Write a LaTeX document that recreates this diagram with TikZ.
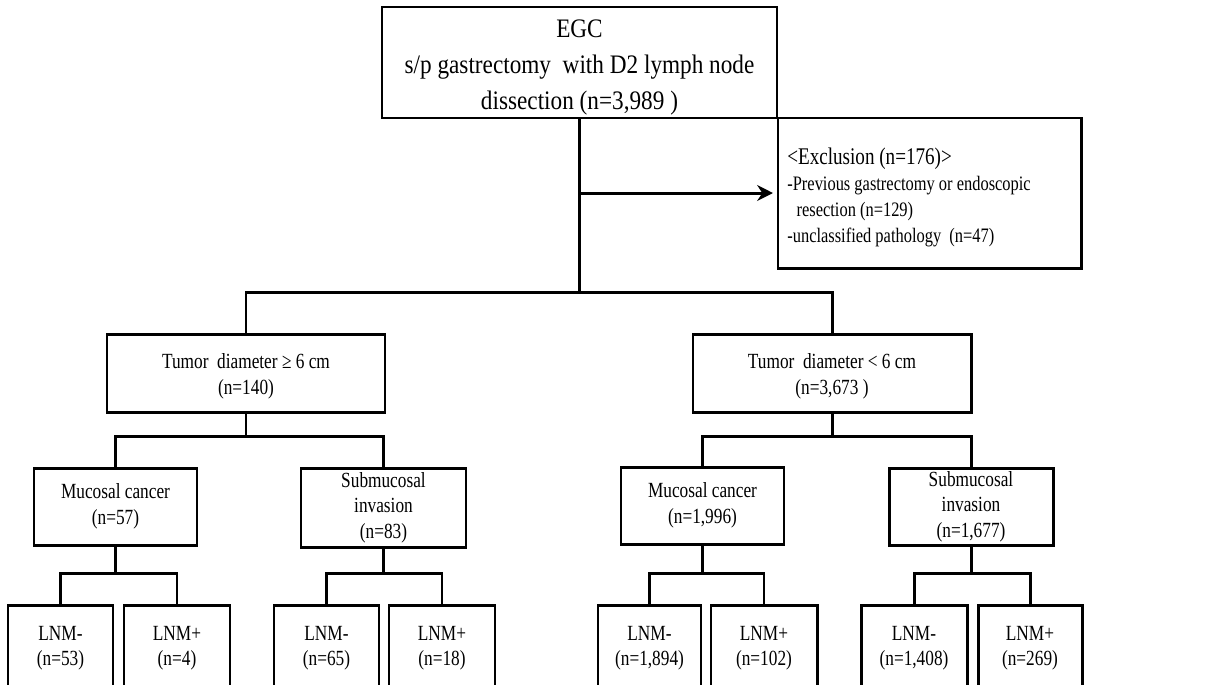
\documentclass[tikz,border=0pt]{standalone}
\usepackage{fontspec}
\setmainfont{Liberation Serif}[FakeStretch=0.8]
\newfontfamily\wideserif{Liberation Serif}[FakeStretch=0.87]
\usetikzlibrary{arrows.meta}
\newcommand\dnstrut[1]{\rule{0pt}{#1}}
\begin{document}
\begin{tikzpicture}[x=0.02cm,y=-0.02cm,
  box/.style={draw=black, line width=1.7pt, align=center, inner sep=0pt, text=black},
  wh/.style 2 args={minimum width=#1*0.02cm, minimum height=#2*0.02cm},
  conn/.style={line width=1.7pt, draw=black},
  big/.style={font=\wideserif\fontsize{15.2}{20.4}\selectfont},
  mid/.style={font=\fontsize{12.3}{14.5}\selectfont},
  arr/.style={conn, -{Stealth[length=9pt,width=9pt]}, shorten >=2pt}]
\useasboundingbox (0,0) rectangle (1218,684);
\clip (0,0) rectangle (1218,684);
\fill[white] (0,0) rectangle (1218,684);

% nodes
\node[box,big,wh={395}{111}] (top) at (579.5,62.5) {\dnstrut{16pt}EGC\\s/p gastrectomy\ \ with D2 lymph node\\dissection (n=3,989 )};
\node[box,wh={303}{150}] (excl) at (929.5,193) {};
\node[anchor=north west, align=left, inner sep=0pt, font=\fontsize{11.7}{14.7}\selectfont] (excltext) at (787,148)
  {{\fontsize{13.6}{14.7}\selectfont <Exclusion (n=176)>}\\-Previous gastrectomy or endoscopic\\\hspace{0.45em}resection (n=129)\\-unclassified pathology\ \ (n=47)};

\node[box,mid,wh={278}{78}] (tl) at (246,373) {\dnstrut{12.5pt}Tumor\ \ diameter ≥ 6 cm\\(n=140)};
\node[box,mid,wh={278}{78}] (tr) at (832,373) {\dnstrut{12.5pt}Tumor\ \ diameter < 6 cm\\(n=3,673 )};

\node[box,mid,wh={163}{77}] (ml) at (115.5,506.5) {Mucosal cancer\\(n=57)};
\node[box,mid,wh={165}{79}] (sl) at (383.5,507.5) {Submucosal\\invasion\\(n=83)};
\node[box,mid,wh={163}{77}] (mr) at (702.5,505.5) {Mucosal cancer\\(n=1,996)};
\node[box,mid,wh={164}{77}] (sr) at (971,506.5) {Submucosal\\invasion\\(n=1,677)};

\node[box,mid,wh={105}{86}] (l1) at (60.5,648) {LNM-\\(n=53)};
\node[box,mid,wh={106}{86}] (l2) at (177,648) {LNM+\\(n=4)};
\node[box,mid,wh={105}{86}] (l3) at (326.5,648) {LNM-\\(n=65)};
\node[box,mid,wh={106}{86}] (l4) at (442,648) {LNM+\\(n=18)};
\node[box,mid,wh={103}{86}] (r1) at (649.5,648) {LNM-\\(n=1,894)};
\node[box,mid,wh={106}{86}] (r2) at (764,648) {LNM+\\(n=102)};
\node[box,mid,wh={106}{86}] (r3) at (914,648) {LNM-\\(n=1,408)};
\node[box,mid,wh={104}{86}] (r4) at (1030,648) {LNM+\\(n=269)};

% connectors
\path (top.south) ++(0,173) coordinate (j1);
\draw[conn] (top.south) -- (j1);
\draw[conn] (tl.north) |- (j1) -| (tr.north);
\draw[arr] (top.south |- excl.west) -- (excl.west);

\path (tl.south) ++(0,23) coordinate (j2);
\draw[conn] (tl.south) -- (j2);
\draw[conn] (ml.north) |- (j2) -| (sl.north);
\path (tr.south) ++(0,23) coordinate (j3);
\draw[conn] (tr.south) -- (j3);
\draw[conn] (mr.north) |- (j3) -| (sr.north);

\path (ml.south) ++(0,27) coordinate (j4);
\draw[conn] (ml.south) -- (j4);
\draw[conn] (l1.north) |- (j4) -| (l2.north);
\path (sl.south) ++(0,25) coordinate (j5);
\draw[conn] (sl.south) -- (j5);
\draw[conn] (l3.north) |- (j5) -| (l4.north);
\path (mr.south) ++(0,28) coordinate (j6);
\draw[conn] (mr.south) -- (j6);
\draw[conn] (r1.north) |- (j6) -| (r2.north);
\path (sr.south) ++(0,27) coordinate (j7);
\draw[conn] (sr.south) -- (j7);
\draw[conn] (r3.north) |- (j7) -| (r4.north);
\end{tikzpicture}
\end{document}
